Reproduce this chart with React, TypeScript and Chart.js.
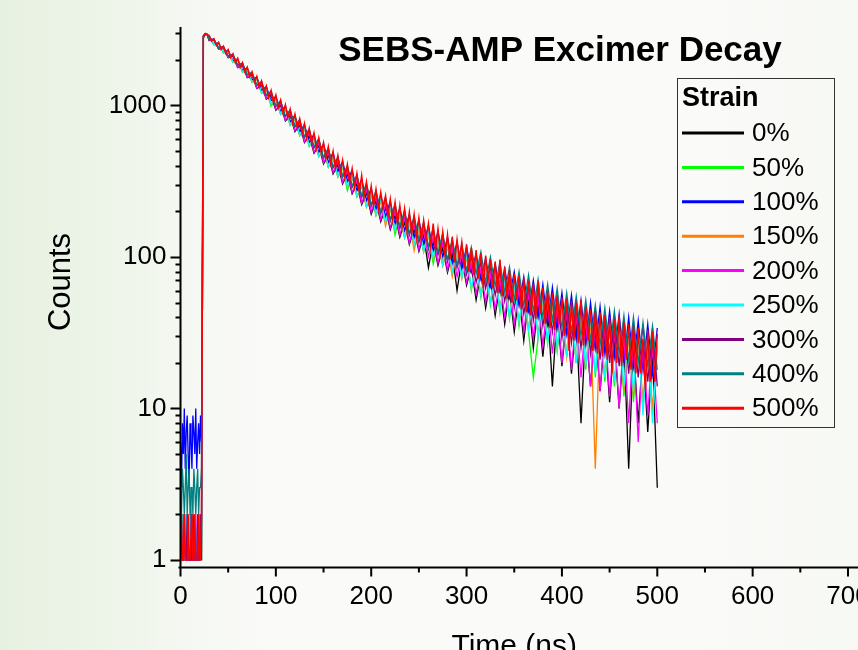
import React, { useEffect, useRef } from "react";
import { Chart, registerables } from "chart.js";

Chart.register(...registerables);

const chartTitle = "SEBS-AMP Excimer Decay";
const xAxisTitle = "Time (ns)";
const yAxisTitle = "Counts";
const legendTitle = "Strain";

// sample times (ns) shared by the 0%..400% traces
const times = [
  0, 1, 2, 3, 4, 5, 6, 7, 8, 9, 10, 11, 12, 13, 14, 15, 16, 17, 18, 19, 20, 21, 22,
  24, 26, 28,
  30, 35, 40, 45, 50, 55, 60, 65, 70, 75, 80, 85, 90, 95, 100, 105, 110, 115, 120, 125,
  130, 135, 140, 145, 150, 155, 160, 165, 170, 175, 180, 185, 190, 195, 200, 205, 210,
  215, 220, 225, 230, 235, 240, 245, 250, 255, 260, 265, 270, 275, 280, 285, 290, 295,
  300, 305, 310, 315, 320, 325, 330, 335, 340, 345, 350, 355, 360, 365, 370, 375, 380,
  385, 390, 395, 400, 405, 410, 415, 420, 425, 430, 435, 440, 445, 450, 455, 460, 465,
  470, 475, 480, 485, 490, 495, 500,
];

// the 500% trace (drawn on top) is read at a finer step
const times500 = [
  0, 1, 2, 3, 4, 5, 6, 7, 8, 9, 10, 11, 12, 13, 14, 15, 16, 17, 18, 19, 20, 21, 22,
  24, 26, 28,
  30, 32.5, 35, 37.5, 40, 42.5, 45, 47.5, 50, 52.5, 55, 57.5, 60, 62.5, 65, 67.5,
  70, 72.5, 75, 77.5, 80, 82.5, 85, 87.5, 90, 92.5, 95, 97.5, 100, 102.5, 105, 107.5,
  110, 112.5, 115, 117.5, 120, 122.5, 125, 127.5, 130, 132.5, 135, 137.5, 140, 142.5, 145, 147.5,
  150, 152.5, 155, 157.5, 160, 162.5, 165, 167.5, 170, 172.5, 175, 177.5, 180, 182.5, 185, 187.5,
  190, 192.5, 195, 197.5, 200, 202.5, 205, 207.5, 210, 212.5, 215, 217.5, 220, 222.5, 225, 227.5,
  230, 232.5, 235, 237.5, 240, 242.5, 245, 247.5, 250, 252.5, 255, 257.5, 260, 262.5, 265, 267.5,
  270, 272.5, 275, 277.5, 280, 282.5, 285, 287.5, 290, 292.5, 295, 297.5, 300, 302.5, 305, 307.5,
  310, 312.5, 315, 317.5, 320, 322.5, 325, 327.5, 330, 332.5, 335, 337.5, 340, 342.5, 345, 347.5,
  350, 352.5, 355, 357.5, 360, 362.5, 365, 367.5, 370, 372.5, 375, 377.5, 380, 382.5, 385, 387.5,
  390, 392.5, 395, 397.5, 400, 402.5, 405, 407.5, 410, 412.5, 415, 417.5, 420, 422.5, 425, 427.5,
  430, 432.5, 435, 437.5, 440, 442.5, 445, 447.5, 450, 452.5, 455, 457.5, 460, 462.5, 465, 467.5,
  470, 472.5, 475, 477.5, 480, 482.5, 485, 487.5, 490, 492.5, 495, 497.5, 500,
];

const strainLabels = ["0%", "50%", "100%", "150%", "200%", "250%", "300%", "400%", "500%"];
const strainColors = ["#000000", "#00ff00", "#0000ff", "#ff8000", "#ff00ff", "#00ffff", "#800080", "#008080", "#ff0000"];

const strain0 = [
  1, 1, 2, 1, 1, 1, 1, 2, 1, 1, 1, 1, 2, 1, 1, 1, 1, 1, 2, 1, 1, 1, 1,
  2840, 2970, 2920,
  2686, 2714, 2352, 2408, 2070, 2120, 1780, 1839, 1530, 1586, 1294, 1364, 1100, 1169, 931,
  1002, 790, 862, 672, 739, 569, 633, 484, 543, 411, 470, 354, 407, 304, 353,
  261, 305, 222, 265, 192, 235, 171, 211, 152, 189, 135, 170, 121, 153, 109,
  140, 85, 127, 88, 115, 79, 106, 60, 97, 65,
  86, 52, 78, 46, 72, 41, 66, 36, 61, 32, 57, 28, 53, 25, 49, 22, 46, 14, 43, 19,
  40, 17, 37, 8, 35, 14, 33, 13, 31, 11, 29, 10, 28, 4, 26, 8, 25, 7, 23, 3,
];
const strain50 = [
  1, 2, 1, 1, 1, 2, 1, 1, 1, 1, 2, 1, 1, 1, 2, 1, 1, 1, 1, 2, 1, 1, 1,
  2810, 2950, 2920,
  2877, 2507, 2572, 2212, 2287, 1919, 1987, 1654, 1727, 1417, 1489, 1201, 1279, 990, 1104,
  872, 948, 740, 815, 631, 703, 537, 604, 458, 519, 391, 451, 337, 392, 275,
  342, 250, 294, 214, 258, 188, 233, 168, 210, 140, 188, 134, 170, 120, 154,
  108, 141, 90, 128, 88, 117, 80, 108, 73, 100,
  60, 90, 54, 84, 48, 77, 43, 71, 39, 66, 35, 62, 32, 16, 29, 54, 27, 50, 24, 47,
  22, 44, 20, 42, 18, 39, 16, 37, 15, 35, 14, 33, 12, 31, 11, 30, 10, 28, 9, 26,
];
const strain100 = [
  6, 3, 8, 5, 10, 4, 7, 9, 5, 3, 8, 6, 4, 9, 7, 5, 10, 4, 6, 8, 5, 9, 6,
  2900, 2990, 2900,
  2873, 2545, 2586, 2257, 2316, 1970, 2027, 1708, 1773, 1472, 1541, 1256, 1334, 1076, 1147,
  913, 992, 779, 859, 668, 746, 572, 645, 490, 558, 421, 488, 365, 427, 316,
  375, 273, 325, 236, 283, 206, 257, 185, 233, 165, 210, 149, 191, 134, 175,
  122, 161, 110, 148, 100, 135, 91, 126, 83, 117,
  80, 104, 72, 98, 64, 90, 60, 84, 54, 80, 48, 74, 44, 70, 40, 66, 36, 63, 34, 58,
  31, 56, 29, 52, 27, 50, 25, 47, 23, 44, 22, 42, 20, 40, 19, 38, 18, 36, 17, 34,
];
const strain150 = [
  1, 1, 1, 2, 1, 1, 1, 1, 1, 2, 1, 1, 1, 1, 2, 1, 1, 1, 1, 1, 2, 1, 1,
  2830, 2960, 2910,
  2885, 2531, 2579, 2231, 2291, 1933, 1993, 1666, 1733, 1427, 1494, 1209, 1283, 1029, 1107,
  877, 952, 743, 819, 634, 706, 540, 607, 460, 521, 392, 453, 338, 393, 291,
  343, 250, 295, 214, 259, 188, 234, 160, 211, 150, 189, 134, 171, 110, 155,
  108, 141, 97, 129, 88, 118, 74, 108, 72, 100,
  62, 90, 56, 82, 50, 76, 46, 70, 41, 64, 37, 60, 33, 56, 30, 52, 28, 49, 25, 46,
  22, 43, 20, 41, 19, 38, 4, 36, 16, 34, 15, 32, 13, 30, 12, 29, 11, 27, 10, 25,
];
const strain200 = [
  1, 1, 1, 1, 2, 1, 1, 1, 1, 1, 1, 2, 1, 1, 1, 1, 2, 1, 1, 1, 1, 1, 2,
  2790, 2920, 2940,
  2689, 2735, 2357, 2434, 2076, 2150, 1789, 1868, 1539, 1615, 1304, 1394, 1110, 1197, 940,
  1029, 800, 887, 682, 763, 578, 655, 492, 563, 419, 489, 361, 425, 311, 369,
  266, 319, 227, 278, 198, 247, 176, 222, 156, 200, 139, 180, 124, 163, 112,
  149, 101, 135, 91, 124, 82, 114, 74, 104, 68,
  90, 57, 84, 50, 77, 45, 71, 40, 66, 36, 62, 32, 58, 29, 54, 26, 50, 23, 47, 20,
  44, 18, 42, 16, 39, 14, 37, 13, 35, 12, 33, 10, 31, 8, 30, 6, 28, 9, 26, 8,
];
const strain250 = [
  1, 1, 2, 1, 1, 1, 2, 1, 1, 1, 2, 1, 1, 1, 1, 2, 1, 1, 2, 1, 1, 1, 1,
  2820, 2930, 2900,
  2894, 2531, 2592, 2233, 2307, 1937, 2007, 1670, 1745, 1430, 1507, 1212, 1296, 1033, 1120,
  880, 963, 746, 829, 637, 716, 542, 616, 462, 530, 395, 461, 340, 400, 293,
  350, 252, 301, 216, 265, 190, 240, 170, 216, 151, 193, 135, 175, 121, 159,
  109, 145, 99, 133, 89, 121, 80, 111, 73, 103,
  62, 92, 56, 84, 50, 78, 45, 70, 40, 66, 37, 62, 33, 58, 30, 55, 27, 52, 25, 48,
  22, 45, 20, 43, 19, 40, 17, 38, 16, 36, 15, 34, 14, 33, 13, 31, 9, 29, 8, 26,
];
const strain300 = [
  1, 2, 1, 1, 2, 1, 1, 2, 1, 1, 1, 2, 1, 1, 2, 1, 1, 1, 2, 1, 1, 2, 1,
  2870, 2940, 2950,
  2728, 2743, 2403, 2451, 2128, 2176, 1840, 1901, 1592, 1650, 1355, 1432, 1159, 1236, 986,
  1066, 843, 924, 721, 797, 613, 688, 525, 593, 448, 518, 388, 452, 336, 394,
  289, 343, 247, 300, 216, 268, 193, 242, 173, 218, 154, 197, 139, 180, 125,
  165, 113, 150, 103, 138, 93, 127, 85, 117, 77,
  100, 68, 92, 62, 86, 56, 80, 51, 74, 46, 70, 42, 66, 38, 62, 35, 58, 32, 55, 29,
  52, 27, 50, 25, 47, 23, 45, 21, 43, 20, 41, 19, 39, 17, 37, 16, 36, 15, 34, 14,
];
const strain400 = [
  3, 2, 4, 3, 2, 3, 5, 2, 3, 4, 2, 3, 3, 2, 4, 3, 2, 3, 4, 2, 3, 3, 4,
  2800, 2950, 2960,
  2709, 2727, 2391, 2441, 2121, 2172, 1839, 1901, 1593, 1654, 1359, 1437, 1165, 1243, 994,
  1076, 851, 935, 730, 809, 623, 699, 534, 605, 453, 523, 393, 458, 340, 400,
  294, 349, 252, 306, 221, 274, 198, 248, 177, 224, 159, 203, 143, 186, 130,
  170, 117, 156, 107, 143, 96, 132, 88, 122, 81,
  116, 77, 108, 68, 100, 64, 92, 58, 86, 52, 80, 48, 76, 44, 71, 40, 66, 38, 62, 34,
  58, 32, 55, 30, 52, 28, 48, 26, 46, 24, 44, 23, 41, 21, 40, 20, 37, 19, 35, 18,
];
const strain500 = [
  1, 2, 1, 1, 2, 1, 1, 1, 2, 1, 1, 1, 2, 1, 1, 2, 1, 1, 1, 2, 1, 1, 2,
  2850, 2980, 2930,
  2903, 2658, 2754, 2498, 2612, 2347, 2466, 2205, 2340, 2070, 2193, 1922,
  2048, 1786, 1920, 1666, 1791, 1544, 1671, 1431, 1557, 1323, 1452, 1221,
  1347, 1128, 1256, 1047, 1171, 968, 1086, 892, 1012, 829, 944, 765,
  876, 710, 817, 656, 761, 606, 706, 562, 659, 519, 611, 490,
  569, 446, 534, 414, 498, 386, 467, 360, 436, 334, 408, 312,
  383, 289, 356, 267, 345, 248, 312, 232, 293, 219, 279, 208,
  267, 210, 253, 186, 241, 177, 229, 166, 218, 159, 208, 149,
  198, 142, 190, 135, 181, 129, 174, 130, 166, 117, 166, 111,
  153, 106, 146, 101, 140, 96, 136, 92, 130, 95, 125, 84,
  121, 80, 115, 76, 111, 72, 106, 62, 102, 70, 97, 62,
  93, 58, 96, 55, 86, 53, 82, 50, 78, 52, 75, 45,
  73, 43, 70, 41, 67, 39, 70, 42, 63, 36, 60, 34,
  58, 33, 56, 36, 54, 30, 53, 24, 51, 28, 50, 27,
  52, 26, 47, 28, 45, 24, 44, 23, 43, 22, 41, 21,
  40, 17, 39, 20, 41, 19, 37, 21, 36, 18, 35, 17,
  34, 17, 29, 13, 33, 15, 32, 15, 31,
];

const strainSeries = [strain0, strain50, strain100, strain150, strain200, strain250, strain300, strain400, strain500];
const strainTimes = [times, times, times, times, times, times, times, times, times500];

const yLabelTicks = [1, 10, 100, 1000];
const xMin = 0;
const xMax = 700;
const xStep = 100;
const yMin = 0.892;
const yMax = 3297;

const FONT = '"Liberation Sans", Arial, Helvetica, sans-serif';

const decorPlugin = {
  id: "decor",
  afterDraw(chart: any) {
    const { ctx, chartArea, scales } = chart;
    const xs = scales.x;
    const ys = scales.y;
    const L = chartArea.left;
    const B = chartArea.bottom;
    ctx.save();
    ctx.strokeStyle = "#000";
    ctx.lineWidth = 2;
    ctx.beginPath();
    ctx.moveTo(L, chartArea.top);
    ctx.lineTo(L, B);
    ctx.moveTo(L - 2, B);
    ctx.lineTo(chart.width, B);
    for (let k = 0; k <= 3; k++) {
      for (let m = 1; m <= 9; m++) {
        const v = m * Math.pow(10, k);
        if (v > ys.max) continue;
        const y = Math.round(ys.getPixelForValue(v)) + 0.5;
        const len = m === 1 ? 10 : 5;
        ctx.moveTo(L - len, y);
        ctx.lineTo(L, y);
      }
    }
    for (let v = xMin; v <= xMax; v += xStep / 2) {
      const x = xs.getPixelForValue(v);
      const len = v % xStep === 0 ? 9 : 5;
      ctx.moveTo(x, B);
      ctx.lineTo(x, B + len);
    }
    ctx.stroke();

    ctx.fillStyle = "#000";
    ctx.font = `bold 35px ${FONT}`;
    ctx.textAlign = "center";
    ctx.textBaseline = "middle";
    ctx.fillText(chartTitle, 560, 51);
    ctx.font = `30px ${FONT}`;
    ctx.textBaseline = "alphabetic";
    ctx.fillText(xAxisTitle, (chartArea.left + chartArea.right) / 2, 655);
    ctx.save();
    ctx.translate(70, 282);
    ctx.rotate(-Math.PI / 2);
    ctx.font = `31px ${FONT}`;
    ctx.textAlign = "center";
    ctx.textBaseline = "alphabetic";
    ctx.fillText(yAxisTitle, 0, 0);
    ctx.restore();

    ctx.lineWidth = 1;
    ctx.strokeStyle = "#333";
    ctx.strokeRect(677.5, 78.5, 157, 349);
    ctx.font = `bold 27px ${FONT}`;
    ctx.textAlign = "left";
    ctx.textBaseline = "middle";
    ctx.fillText(legendTitle, 682, 99);
    ctx.font = `26px ${FONT}`;
    chart.data.datasets.forEach((ds: any, i: number) => {
      const y = 133 + i * 34.4;
      ctx.strokeStyle = ds.borderColor;
      ctx.lineWidth = 3;
      ctx.beginPath();
      ctx.moveTo(682, y);
      ctx.lineTo(744, y);
      ctx.stroke();
      ctx.fillStyle = "#000";
      ctx.fillText(ds.label, 752, y + 1);
    });
    ctx.restore();
  },
};

export default function App() {
  const canvasRef = useRef<HTMLCanvasElement | null>(null);

  useEffect(() => {
    if (!canvasRef.current) return;
    const n = strainLabels.length;
    const chart = new Chart(canvasRef.current, {
      type: "line",
      data: {
        datasets: strainSeries.map((vals, i) => ({
          label: strainLabels[i],
          data: strainTimes[i].map((t, j) => ({ x: t, y: vals[j] })),
          borderColor: strainColors[i],
          backgroundColor: strainColors[i],
          borderWidth: i === n - 1 ? 1.5 : 1.3,
          pointRadius: 0,
          tension: 0,
          fill: false,
          order: n - 1 - i,
        })),
      },
      options: {
        responsive: false,
        maintainAspectRatio: false,
        devicePixelRatio: 1,
        animation: false,
        events: [],
        layout: { padding: { top: 27, right: 10, left: 0, bottom: 0 } },
        plugins: {
          legend: { display: false },
          tooltip: { enabled: false },
          title: { display: false },
        },
        scales: {
          x: {
            type: "linear",
            min: xMin,
            max: xMax,
            grid: { display: false, drawTicks: false },
            border: { display: false },
            ticks: {
              stepSize: xStep,
              color: "#000",
              font: { family: FONT, size: 26 },
              padding: 14,
              maxRotation: 0,
              autoSkip: false,
            },
            afterFit: (scale: any) => {
              scale.height = 82.5;
              scale.paddingLeft = 0;
              scale.paddingRight = 0;
            },
          },
          y: {
            type: "logarithmic",
            min: yMin,
            max: yMax,
            grid: { display: false, drawTicks: false },
            border: { display: false },
            ticks: {
              color: "#000",
              font: { family: FONT, size: 26 },
              padding: 14,
              autoSkip: false,
              callback: (v: any) => String(v),
            },
            afterBuildTicks: (scale: any) => {
              scale.ticks = yLabelTicks.map((v) => ({ value: v }));
            },
            afterFit: (scale: any) => {
              scale.width = 180.5;
              scale.paddingTop = 0;
              scale.paddingBottom = 0;
            },
          },
        },
      },
      plugins: [decorPlugin],
    });
    return () => chart.destroy();
  }, []);

  return (
    <div
      style={{
        position: "fixed",
        left: 0,
        top: 0,
        width: 858,
        height: 650,
        overflow: "hidden",
        background:
          "linear-gradient(to right, #e7f1e1 0px, #edf4e8 100px, #f5f8f2 190px, #fafaf8 260px, #fafaf8 700px, #f7f9f4 858px)",
      }}
    >
      <canvas ref={canvasRef} width={858} height={650} style={{ display: "block", width: 858, height: 650 }} />
    </div>
  );
}
